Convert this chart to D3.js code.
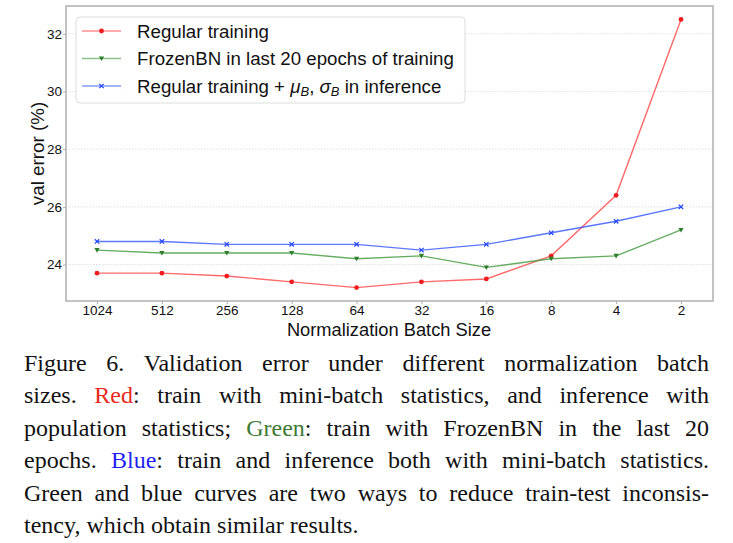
<!DOCTYPE html>
<html><head><meta charset="utf-8">
<script src="https://cdn.jsdelivr.net/npm/d3@7/dist/d3.min.js"></script>
<style>body{margin:0;background:#fff}svg{display:block}</style>
</head><body>
<svg id="c" width="733" height="543"></svg>
<script>
const batchSizes = ["1024","512","256","128","64","32","16","8","4","2"];
const redVals   = [23.7,23.7,23.6,23.4,23.2,23.4,23.5,24.3,26.4,32.5];
const greenVals = [24.5,24.4,24.4,24.4,24.2,24.3,23.9,24.2,24.3,25.2];
const blueVals  = [24.8,24.8,24.7,24.7,24.7,24.5,24.7,25.1,25.5,26.0];
const yTicks = [24,26,28,30,32];
const captionLines = [
 [["Figure 6. Validation error under different normalization batch",null]],
 [["sizes. ",null],["Red","#e8291c"],[": train with mini-batch statistics, and inference with",null]],
 [["population statistics; ",null],["Green","#3d7a35"],[": train with FrozenBN in the last 20",null]],
 [["epochs. ",null],["Blue","#1f1ff5"],[": train and inference both with mini-batch statistics.",null]],
 [["Green and blue curves are two ways to reduce train-test inconsis-",null]],
 [["tency, which obtain similar results.",null]]
];

const svg = d3.select("#c");
const L=66, R=713, T=6, B=301;
const x = d3.scalePoint().domain(batchSizes).range([97,681]);
const ymin=d3.min(redVals.concat(greenVals,blueVals)), ymax=d3.max(redVals.concat(greenVals,blueVals));
const pad=(ymax-ymin)*0.05;
const y = d3.scaleLinear().domain([ymin-pad,ymax+pad]).range([B,T]);
const sans = "Liberation Sans, Arial, sans-serif";

// grid
svg.append("g").selectAll("line").data(yTicks).join("line")
 .attr("x1",L).attr("x2",R).attr("y1",d=>y(d)).attr("y2",d=>y(d))
 .attr("stroke","#d8d8d8").attr("stroke-width",0.8).attr("stroke-dasharray","1.5,1.5");

// frame
svg.append("rect").attr("x",L).attr("y",T).attr("width",R-L).attr("height",B-T)
 .attr("fill","none").attr("stroke","#b0b0b0").attr("stroke-width",1.5);

// axes
const xa = svg.append("g").attr("transform",`translate(0,${B})`)
 .call(d3.axisBottom(x).tickSize(3).tickPadding(1));
const ya = svg.append("g").attr("transform",`translate(${L},0)`)
 .call(d3.axisLeft(y).tickValues(yTicks).tickSize(3).tickPadding(1));
[xa,ya].forEach(g=>{
 g.select(".domain").remove();
 g.selectAll(".tick line").attr("stroke","#b0b0b0");
 g.selectAll(".tick text").attr("fill","#111").style("font-family",sans).style("font-size","13.5px");
});

svg.append("text").attr("x",389).attr("y",335.5).attr("text-anchor","middle")
 .style("font-family",sans).style("font-size","18.3px").attr("fill","#111").text("Normalization Batch Size");
svg.append("text").attr("transform",`translate(44,${(T+B)/2}) rotate(-90)`).attr("text-anchor","middle")
 .style("font-family",sans).style("font-size","18.8px").attr("fill","#111").text("val error (%)");

const series = [
 {vals:redVals, line:"#ff4444", mark:"#ee1c1c", type:"o"},
 {vals:greenVals, line:"#3f9a3a", mark:"#2e7d2a", type:"v"},
 {vals:blueVals, line:"#3355ff", mark:"#2244ff", type:"x"}
];
const lineGen = d3.line().x((d,i)=>x(batchSizes[i])).y(d=>y(d));
function marker(g,cx,cy,s){
 if(s.type==="o") g.append("circle").attr("cx",cx).attr("cy",cy).attr("r",2.4).attr("fill",s.mark);
 else if(s.type==="v") g.append("path").attr("d",`M${cx-2.6},${cy-2}L${cx+2.6},${cy-2}L${cx},${cy+2.6}Z`).attr("fill",s.mark);
 else g.append("path").attr("d",`M${cx-2.2},${cy-2.2}L${cx+2.2},${cy+2.2}M${cx-2.2},${cy+2.2}L${cx+2.2},${cy-2.2}`).attr("stroke",s.mark).attr("stroke-width",1.2);
}
series.forEach(s=>{
 svg.append("path").datum(s.vals).attr("d",lineGen).attr("fill","none")
  .attr("stroke",s.line).attr("stroke-opacity",0.8).attr("stroke-width",1.4);
 const g=svg.append("g");
 s.vals.forEach((v,i)=>marker(g,x(batchSizes[i]),y(v),s));
});

// legend
const lg = svg.append("g");
lg.append("rect").attr("x",76).attr("y",17).attr("width",389).attr("height",86).attr("rx",4)
 .attr("fill","#fff").attr("fill-opacity",0.9).attr("stroke","#dcdcdc").attr("stroke-width",1);
const rows=[31,58.5,86];
const labels=["Regular training","FrozenBN in last 20 epochs of training",null];
series.forEach((s,i)=>{
 lg.append("line").attr("x1",82).attr("x2",121).attr("y1",rows[i]).attr("y2",rows[i])
  .attr("stroke",s.line).attr("stroke-opacity",0.6).attr("stroke-width",1.6);
 marker(lg,101.5,rows[i],s);
 const t=lg.append("text").attr("x",137).attr("y",rows[i]+6.5).style("font-family",sans)
  .style("font-size","18.7px").attr("fill","#111");
 if(labels[i]) t.text(labels[i]);
 else{
  t.append("tspan").text("Regular training + ");
  t.append("tspan").attr("font-style","italic").text("μ");
  t.append("tspan").attr("font-style","italic").attr("font-size","13px").attr("dy",3).text("B");
  t.append("tspan").attr("dy",-3).text(", ");
  t.append("tspan").attr("font-style","italic").text("σ");
  t.append("tspan").attr("font-style","italic").attr("font-size","13px").attr("dy",3).text("B");
  t.append("tspan").attr("dy",-3).text(" in inference");
 }
});

// caption, justified
const serif="Liberation Serif, Times New Roman, serif";
const cx0=24, cx1=709, fs=24;
captionLines.forEach((segs,li)=>{
 const by=371+li*32.4;
 const tokens=[]; let prevEndedSpace=true;
 segs.forEach(([txt,col])=>{
  const parts=txt.split(" ");
  parts.forEach((p,k)=>{
   if(p!==""){
    const attach = (k===0 && !prevEndedSpace && tokens.length>0);
    if(attach) tokens[tokens.length-1].parts.push({p,col});
    else tokens.push({parts:[{p,col}]});
   }
  });
  prevEndedSpace = txt.endsWith(" ");
 });
 const g=svg.append("g");
 const widths=tokens.map(tk=>{
  const t=g.append("text").style("font-family",serif).style("font-size",fs+"px");
  tk.parts.forEach(pp=>t.append("tspan").attr("fill",pp.col||"#111").text(pp.p));
  tk.el=t; return t.node().getComputedTextLength();
 });
 const total=d3.sum(widths);
 const last = li===captionLines.length-1;
 const gap = last ? fs*0.25 : (cx1-cx0-total)/(tokens.length-1);
 let cx=cx0;
 tokens.forEach((tk,i)=>{tk.el.attr("x",cx).attr("y",by); cx+=widths[i]+gap;});
});
</script>
</body></html>
